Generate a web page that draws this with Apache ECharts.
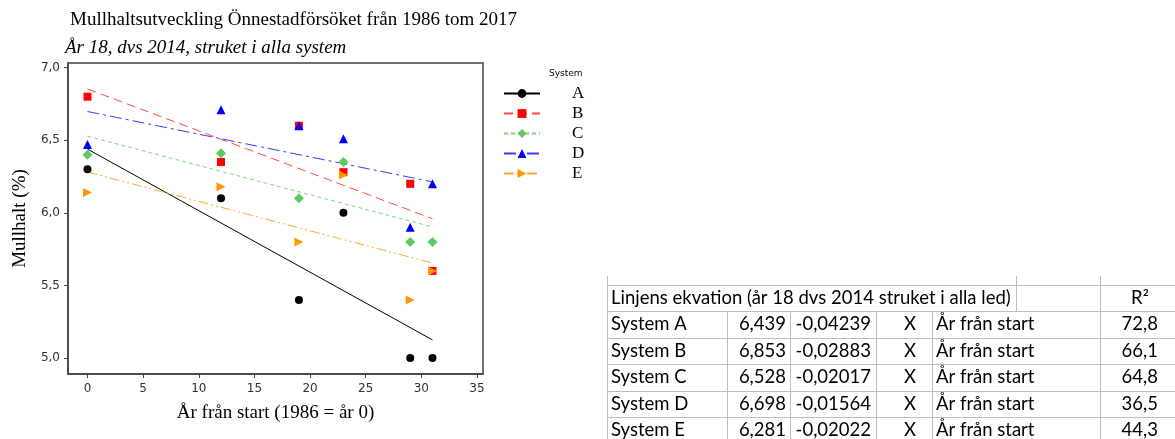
<!DOCTYPE html>
<html>
<head>
<meta charset="utf-8">
<script src="https://cdn.jsdelivr.net/npm/echarts@6/dist/echarts.min.js"></script>
<style>
    html, body { margin: 0; padding: 0; background: #fff; }
    #main { width: 1175px; height: 439px; }
</style>
</head>
<body>
<div id="main"></div>
<script>
    // år från start (1986 = år 0), år 18 struket
    const years = [0, 12, 19, 23, 29, 31];
    const systems = ['A', 'B', 'C', 'D', 'E'];
    // mullhalt (%) per system
    const valuesA = [6.30, 6.10, 5.40, 6.00, 5.00, 5.00];
    const valuesB = [6.80, 6.35, 6.60, 6.28, 6.20, 5.60];
    const valuesC = [6.40, 6.41, 6.10, 6.35, 5.80, 5.80];
    const valuesD = [6.47, 6.71, 6.60, 6.51, 5.90, 6.20];
    const valuesE = [6.14, 6.18, 5.80, 6.26, 5.40, 5.60];
    // linjens ekvation
    const intercepts = [6.439, 6.853, 6.528, 6.698, 6.281];
    const slopes = [-0.04239, -0.02883, -0.02017, -0.01564, -0.02022];
    const r2 = [72.8, 66.1, 64.8, 36.5, 44.3];
    const fitRange = [0, 31];
    const xTicks = [0, 5, 10, 15, 20, 25, 30, 35];
    const yTicks = [5.0, 5.5, 6.0, 6.5, 7.0];

    const allValues = [valuesA, valuesB, valuesC, valuesD, valuesE];
    const looks = [
        {color: '#000000', line: '#000000', dash: 'solid', symbol: 'circle', size: 8, rotate: 0},
        {color: '#ff0000', line: '#ff4a4a', dash: [9, 5], symbol: 'rect', size: 8, rotate: 0},
        {color: '#5fc85f', line: '#7fd47f', dash: [4, 3], symbol: 'diamond', size: 10, rotate: 0},
        {color: '#0000ff', line: '#3a3aff', dash: [12, 4, 3, 4], symbol: 'triangle', size: 9, rotate: 0},
        {color: '#ff9900', line: '#ffaa33', dash: [10, 3, 2, 3, 2, 3], symbol: 'triangle', size: 9, rotate: -90}
    ];
    const comma = (v, d) => v.toFixed(d).replace('.', ',');

    const myChart = echarts.init(document.getElementById('main'));

    const series = [];
    // regressionslinjer först, så att legenden ritar linje + symbol
    systems.forEach((s, i) => {
        const lk = looks[i];
        series.push({
            name: s,
            type: 'line',
            data: fitRange.map(x => [x, intercepts[i] + slopes[i] * x]),
            showSymbol: false,
            symbol: lk.symbol,
            symbolRotate: lk.rotate,
            silent: true,
            itemStyle: {color: lk.color},
            lineStyle: {color: lk.line, width: 1, type: lk.dash},
            z: 2
        });
    });
    systems.forEach((s, i) => {
        const lk = looks[i];
        series.push({
            name: s,
            type: 'scatter',
            data: years.map((x, j) => [x, allValues[i][j]]),
            symbol: lk.symbol,
            symbolSize: lk.size,
            symbolRotate: lk.rotate,
            itemStyle: {color: lk.color, opacity: 1},
            z: 3
        });
    });

    // tabellen till höger
    const colX = [607, 727, 790, 876, 932, 1100];
    const rowY = [285, 311, 337.5, 364, 390.5, 417, 443.5];
    const gridColor = '#bdbdbd';
    const tFont = '18.5px Lato';
    const table = [];
    rowY.forEach(y => {
        table.push({type: 'line', shape: {x1: 607, y1: Math.round(y) + 0.5, x2: 1180, y2: Math.round(y) + 0.5},
            style: {stroke: gridColor, lineWidth: 1}});
    });
    [607, 1016, 1100].forEach(x => {
        table.push({type: 'line', shape: {x1: x + 0.5, y1: 276, x2: x + 0.5, y2: 311},
            style: {stroke: gridColor, lineWidth: 1}});
    });
    colX.forEach(x => {
        table.push({type: 'line', shape: {x1: x + 0.5, y1: 311, x2: x + 0.5, y2: 439},
            style: {stroke: gridColor, lineWidth: 1}});
    });
    const txt = (text, x, y, align) => ({
        type: 'text', x: x, y: y,
        style: {text: text, font: tFont, fill: '#000', align: align, verticalAlign: 'middle'}
    });
    table.push(txt('Linjens ekvation (år 18 dvs 2014 struket i alla led)', 611, 298, 'left'));
    table.push(txt('R²', 1140, 298, 'center'));
    systems.forEach((s, i) => {
        const cy = (rowY[i + 1] + rowY[i + 2]) / 2;
        table.push(txt('System ' + s, 611, cy, 'left'));
        table.push(txt(comma(intercepts[i], 3), 786, cy, 'right'));
        table.push(txt(comma(slopes[i], 5), 871, cy, 'right'));
        table.push(txt('X', 910, cy, 'center'));
        table.push(txt('År från start', 936, cy, 'left'));
        table.push(txt(comma(r2[i], 1), 1158, cy, 'right'));
    });

    const axisColor = '#404040';
    const labelStyle = {fontFamily: 'DejaVu Sans', fontSize: 12, color: '#303030'};
    const nameStyle = {fontFamily: 'Liberation Serif', fontSize: 19, color: '#000'};

    const option = {
        animation: false,
        backgroundColor: '#fff',
        title: [
            {
                text: 'Mullhaltsutveckling Önnestadförsöket från 1986 tom 2017',
                left: 70, top: 11, padding: 0,
                textStyle: {fontFamily: 'Liberation Serif', fontSize: 19, fontWeight: 'normal', color: '#000'}
            },
            {
                text: 'År 18, dvs 2014, struket i alla system',
                left: 65, top: 38, padding: 0,
                textStyle: {fontFamily: 'Liberation Serif', fontSize: 19, fontStyle: 'italic', fontWeight: 'normal', color: '#000'}
            },
            {
                text: 'System',
                left: 549, top: 69, padding: 0,
                textStyle: {fontFamily: 'DejaVu Sans', fontSize: 9, fontWeight: 'normal', color: '#000'}
            }
        ],
        legend: {
            data: systems,
            orient: 'vertical',
            left: 503, top: 85,
            padding: 0,
            itemWidth: 36, itemHeight: 11, itemGap: 3,
            selectedMode: false,
            textStyle: {fontFamily: 'Liberation Serif', fontSize: 17, color: '#000', lineHeight: 17, padding: [0, 0, 0, 27]}
        },
        grid: {
            left: 68, top: 63, right: 692, bottom: 65,
            show: true, borderColor: axisColor, borderWidth: 1.5
        },
        xAxis: {
            type: 'value',
            min: -1.75, max: 35.54,
            name: 'År från start (1986 = år 0)',
            nameLocation: 'middle', nameGap: 30,
            nameTextStyle: nameStyle,
            axisLine: {show: true, onZero: false, lineStyle: {color: axisColor, width: 1.5}},
            axisTick: {show: true, length: 4, customValues: xTicks, lineStyle: {color: axisColor}},
            axisLabel: Object.assign({customValues: xTicks, margin: 9}, labelStyle),
            splitLine: {show: false}
        },
        yAxis: {
            type: 'value',
            min: 4.89, max: 7.032,
            name: 'Mullhalt (%)',
            nameLocation: 'middle', nameGap: 38, nameRotate: 90,
            nameTextStyle: nameStyle,
            axisLine: {show: true, onZero: false, lineStyle: {color: axisColor, width: 1.5}},
            axisTick: {show: true, length: 4, customValues: yTicks, lineStyle: {color: axisColor}},
            axisLabel: Object.assign({customValues: yTicks, margin: 8, formatter: v => comma(v, 1)}, labelStyle),
            splitLine: {show: false}
        },
        graphic: table,
        series: series
    };
    myChart.setOption(option);
</script>
</body>
</html>
